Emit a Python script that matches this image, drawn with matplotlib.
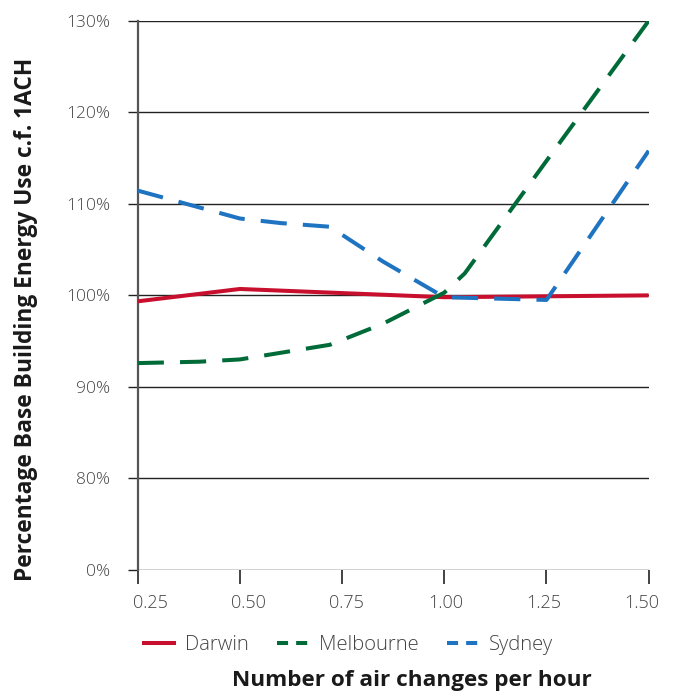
import matplotlib.pyplot as plt
from matplotlib.lines import Line2D

# air changes per hour (x) and % energy use vs 1ACH
darwin_x = [0.25, 0.5, 0.75, 1.0, 1.25, 1.5]
darwin_y = [99.35, 100.7, 100.25, 99.8, 99.9, 100.0]

melb_x = [0.25, 0.40, 0.5, 0.72, 0.85, 1.0, 1.05, 1.25, 1.5]
melb_y = [92.6, 92.75, 93.0, 94.6, 96.9, 100.3, 102.4, 114.7, 130.0]

syd_x = [0.25, 0.5, 0.6, 0.72, 0.85, 1.0, 1.25, 1.5]
syd_y = [111.45, 108.4, 107.9, 107.5, 103.7, 99.8, 99.5, 115.8]

xticks = [0.25, 0.5, 0.75, 1.0, 1.25, 1.5]
xlabels = ["0.25", "0.50", "0.75", "1.00", "1.25", "1.50"]
yticks = [70, 80, 90, 100, 110, 120, 130]   # bottom tick is labelled 0% (broken axis)
ylabels = ["0%", "80%", "90%", "100%", "110%", "120%", "130%"]

red = "#C8102E"
green = "#006B38"
blue = "#1F74C1"
grey = "#444444"

plt.rcParams["font.family"] = ["Open Sans", "DejaVu Sans"]

fig = plt.figure(figsize=(6.75, 6.95), dpi=100)
ax = fig.add_axes([0.204, 0.180, 0.757, 0.790])

ax.plot(darwin_x, darwin_y, color=red, lw=2.9, solid_capstyle="butt", zorder=3)
ax.plot(melb_x, melb_y, color=green, lw=2.9, dashes=(6.5, 4), zorder=4)
ax.plot(syd_x, syd_y, color=blue, lw=2.9, dashes=(6.5, 4), zorder=3)

ax.set_xlim(0.25, 1.5)
ax.set_ylim(70, 130)
ax.set_yticks(yticks)
ax.set_yticklabels(ylabels)
ax.set_xticks(xticks)
ax.set_xticklabels([])

for y in yticks:
    ax.axhline(y, color="#222222", lw=1.0, zorder=1)

for s in ["top", "right", "bottom"]:
    ax.spines[s].set_visible(False)
ax.spines["left"].set_color("#555555")
ax.spines["left"].set_linewidth(1.6)

ax.tick_params(axis="y", length=7, width=1.0, color="#222222", pad=13,
               labelsize=12.5, labelcolor=grey)
ax.tick_params(axis="x", length=10, width=1.2, color="#222222")
for lbl in ax.get_yticklabels():
    lbl.set_fontweight("light")

# x tick labels sit slightly inward from the ticks
for i, lab in enumerate(xlabels):
    ax.text(0.28 + i * 0.2408, -0.043, lab, transform=ax.get_xaxis_transform(),
            ha="center", va="top", fontsize=13, color=grey, fontweight="light")

handles = [
    Line2D([], [], color=red, lw=2.9),
    Line2D([], [], color=green, lw=2.9, dashes=(2.75, 2)),
    Line2D([], [], color=blue, lw=2.9, dashes=(2.75, 2)),
]
leg = fig.legend(handles, ["Darwin", "Melbourne", "Sydney"], loc="center",
                 bbox_to_anchor=(0.516, 0.072), ncol=3, frameon=False,
                 fontsize=14.6, handlelength=1.5, handletextpad=0.55, columnspacing=1.4)
for t in leg.get_texts():
    t.set_color(grey)
    t.set_fontweight("light")

fig.text(0.61, 0.021, "Number of air changes per hour", ha="center", va="center",
         fontsize=16.2, fontweight="bold", color="#1a1a1a")
fig.text(0.039, 0.541, "Percentage Base Building Energy Use c.f. 1ACH", ha="center",
         va="center", rotation=90, fontsize=16.4, fontweight="bold", color="#1a1a1a")

fig.savefig("out.png", dpi=100)
